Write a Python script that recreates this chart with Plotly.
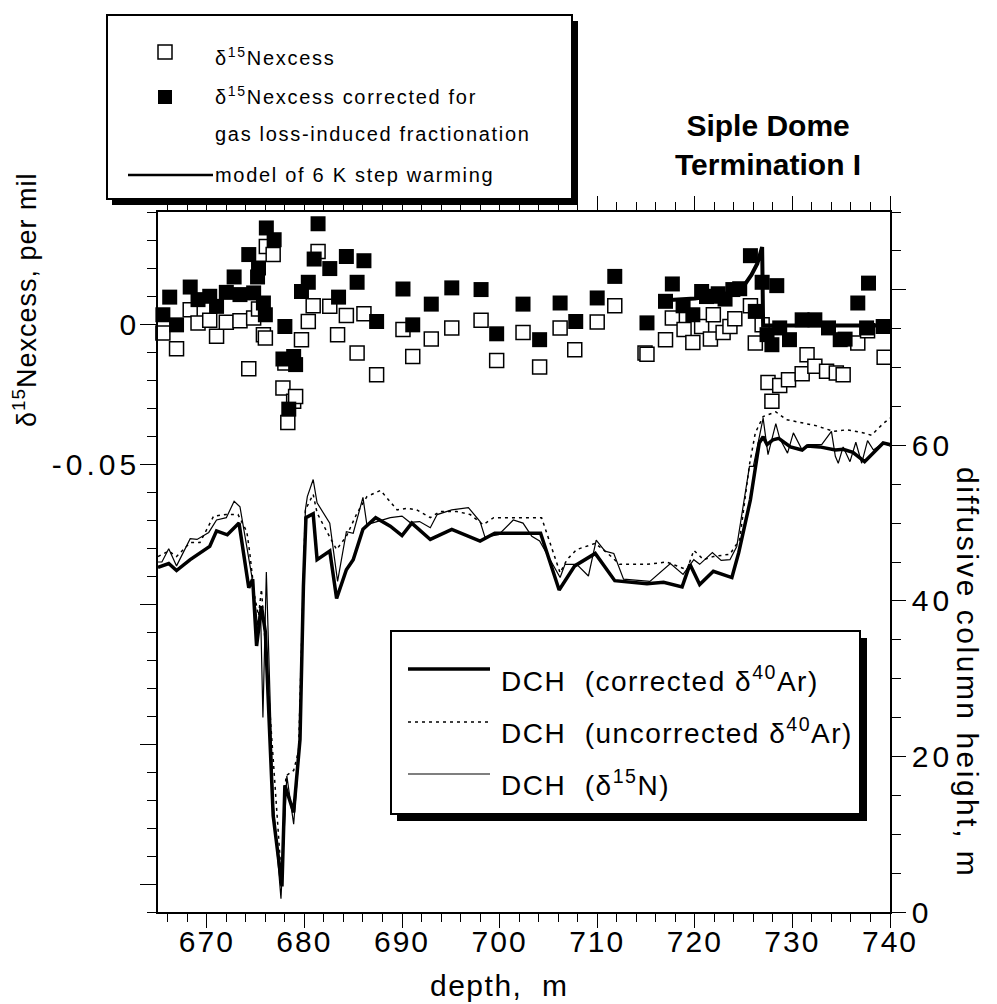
import plotly.graph_objects as go

# ---------------- data ----------------
open_depth = [665.5, 666.9, 668.3, 669.1, 670.3, 671.0, 672.0, 673.4, 674.3, 674.8, 675.3, 675.8, 676.0, 676.1,
              676.8, 677.8, 678.0, 678.3, 678.9, 679.1, 679.7, 680.4, 680.9, 681.4, 682.6, 683.4, 684.3, 685.4,
              686.1, 687.4, 690.1, 691.1, 693.0, 695.1, 698.1, 699.7, 702.4, 704.1, 706.2, 707.7, 710.0, 711.8,
              714.9, 715.1, 717.0, 717.7, 718.9, 719.8, 720.7, 721.6, 721.9, 722.9, 723.6, 724.1, 725.7, 726.2,
              726.9, 727.5, 727.9, 728.7, 729.6, 731.0, 731.5, 732.3, 733.5, 734.5, 735.2, 736.7, 737.7, 739.4]
open_val = [-0.0032, -0.0088, 0.0051, 0.0004, 0.0013, -0.0044, 0.0006, 0.0012, -0.0160, 0.0021, 0.0054, -0.0038,
            -0.0050, 0.0277, 0.0248, -0.0229, -0.0139, -0.0352, -0.0276, -0.0259, -0.0056, 0.0009, 0.0065, 0.0259,
            0.0063, -0.0038, 0.0030, -0.0104, 0.0037, -0.0181, -0.0020, -0.0116, -0.0054, -0.0014, 0.0013, -0.0130,
            -0.0030, -0.0154, -0.0014, -0.0092, 0.0007, 0.0065, -0.0104, -0.0108, -0.0056, 0.0021, -0.0020, -0.0066,
            -0.0009, -0.0054, 0.0033, -0.0030, -0.0009, 0.0019, 0.0065, -0.0068, -0.0003, -0.0209, -0.0276, -0.0220,
            -0.0199, -0.0178, -0.0110, -0.0151, -0.0169, -0.0175, -0.0181, -0.0068, -0.0024, -0.0119]

fill_depth = [665.5, 666.2, 666.9, 668.3, 669.1, 670.3, 671.0, 672.0, 672.8, 673.4, 674.3, 674.8, 675.2, 675.3,
              675.8, 676.0, 676.1, 676.9, 677.8, 678.0, 678.4, 678.9, 679.1, 679.7, 680.4, 681.0, 681.4, 682.6,
              683.5, 684.3, 685.4, 686.1, 687.4, 690.1, 691.1, 693.0, 695.1, 698.1, 699.7, 702.4, 704.1, 706.2,
              707.8, 710.0, 711.8, 715.1, 717.0, 717.7, 718.8, 719.8, 720.7, 721.9, 723.1, 723.9, 725.7, 726.2,
              726.9, 727.4, 727.9, 728.4, 728.7, 729.7, 731.0, 732.3, 733.7, 734.9, 735.4, 736.7, 737.6, 737.8,
              739.3, 721.2, 722.4, 724.6]
fill_val = [0.0033, 0.0096, -0.0003, 0.0132, 0.0087, 0.0099, 0.0063, 0.0113, 0.0168, 0.0105, 0.0248, 0.0111,
            0.0168, 0.0200, 0.0075, 0.0033, 0.0343, 0.0301, -0.0125, -0.0009, -0.0304, -0.0116, -0.0145, 0.0116,
            0.0149, 0.0232, 0.0358, 0.0198, 0.0096, 0.0241, 0.0149, 0.0226, 0.0009, 0.0125, -0.0003, 0.0071,
            0.0129, 0.0123, -0.0035, 0.0071, -0.0056, 0.0075, 0.0009, 0.0093, 0.0170, 0.0004, 0.0081, 0.0143,
            0.0065, 0.0033, 0.0116, 0.0099, 0.0089, 0.0123, 0.0244, 0.0045, 0.0149, -0.0038, -0.0074, 0.0137,
            -0.0014, -0.0056, 0.0015, 0.0015, -0.0014, -0.0056, -0.0054, 0.0075, -0.0014, 0.0146, -0.0009,
            0.0098, 0.0108, 0.0126]

model_depth = [717.0, 718.5, 720.0, 721.5, 723.0, 724.2, 725.1, 725.8, 726.4, 726.9, 727.0, 740.0]
model_val = [0.0085, 0.0087, 0.0091, 0.0098, 0.0106, 0.0118, 0.0140, 0.0175, 0.0215, 0.0275, -0.0005, -0.0005]

corr_depth = [665.0, 666.1, 666.9, 668.3, 670.3, 671.0, 672.1, 673.3, 674.3, 674.7, 675.1, 675.6, 676.0, 676.8,
              677.7, 678.0, 678.9, 679.55, 679.9, 680.16, 680.9, 681.3, 682.6, 683.3, 684.3, 685.0, 686.0, 687.3,
              688.8, 690.0, 691.0, 692.9, 695.1, 698.0, 699.5, 704.2, 706.1, 707.7, 709.8, 711.8, 715.1, 716.8,
              718.7, 719.5, 720.5, 721.9, 723.8, 724.5, 725.7, 726.6, 727.0, 727.4, 728.0, 728.6, 729.8, 731.0,
              731.5, 732.8, 734.4, 735.2, 736.2, 737.4, 739.3, 740.0]
corr_h = [44.3, 44.8, 43.9, 45.3, 47.0, 49.0, 48.5, 50.0, 41.7, 42.8, 34.2, 39.3, 36.0, 12.4,
          3.3, 16.3, 12.8, 22.2, 41.9, 50.7, 51.2, 45.3, 46.4, 40.3, 44.0, 45.3, 49.2, 50.7,
          49.6, 48.4, 50.0, 47.9, 49.2, 47.7, 48.7, 48.7, 41.4, 44.5, 46.1, 42.6, 42.2, 42.4,
          41.8, 44.7, 42.1, 43.8, 43.0, 46.2, 53.0, 60.3, 61.1, 60.1, 60.7, 60.9, 59.8, 59.4,
          59.9, 59.8, 59.4, 59.5, 59.1, 57.9, 60.3, 60.1]

uncorr_depth = [665.0, 666.1, 666.9, 668.3, 669.3, 670.7, 672.0, 673.2, 674.1, 674.4, 674.9, 675.3, 675.6, 676.1,
                677.7, 678.1, 678.9, 679.4, 680.1, 680.9, 681.3, 682.3, 683.3, 684.3, 685.4, 686.4, 687.8, 689.5,
                690.5, 691.5, 692.9, 693.9, 695.6, 697.0, 698.3, 699.4, 701.8, 704.3, 706.2, 706.9, 707.9, 709.8,
                711.0, 712.3, 715.1, 717.1, 719.2, 719.9, 720.9, 721.9, 723.6, 724.6, 725.6, 726.2, 727.0, 727.8,
                728.3, 729.4, 731.0, 732.5, 734.2, 735.6, 737.3, 738.1, 739.3, 740.0]
uncorr_h = [45.7, 46.4, 45.7, 47.5, 47.5, 50.9, 51.1, 51.1, 48.9, 46.2, 40.6, 38.1, 41.5, 32.1,
            3.4, 17.5, 18.2, 20.7, 51.7, 53.7, 51.3, 48.9, 46.6, 48.3, 51.3, 53.4, 54.2, 51.7,
            51.9, 51.7, 50.7, 51.5, 51.5, 51.1, 49.8, 50.7, 50.7, 50.7, 43.6, 45.3, 46.6, 47.4,
            46.2, 44.7, 44.7, 45.0, 44.0, 46.5, 45.3, 45.7, 46.0, 47.9, 57.5, 61.6, 63.7, 64.1,
            64.3, 63.3, 62.9, 62.5, 61.8, 62.0, 61.6, 61.3, 62.8, 63.5]

n15_depth = [665.0, 665.4, 666.1, 666.9, 668.3, 669.0, 670.2, 671.0, 672.0, 672.8, 673.4, 674.3, 674.7, 675.2,
             675.5, 675.75, 676.1, 676.8, 677.6, 678.2, 678.5, 678.9, 679.55, 680.1, 680.3, 680.9, 681.3, 682.6,
             683.4, 684.3, 685.0, 686.0, 686.4, 688.8, 690.0, 690.8, 691.8, 692.9, 693.6, 695.1, 696.8, 698.0,
             698.5, 699.9, 701.4, 702.4, 703.3, 704.1, 706.2, 706.7, 707.9, 709.1, 709.9, 710.8, 711.7, 712.7,
             715.4, 717.5, 718.8, 719.9, 720.5, 721.8, 722.7, 723.6, 724.3, 725.6, 726.0, 727.0, 727.5, 728.3,
             728.7, 729.5, 730.1, 731.0, 731.6, 733.0, 734.0, 734.4, 734.7, 735.2, 735.9, 736.5, 737.1, 737.7,
             738.3, 739.3, 740.0]
n15_h = [45.0, 45.0, 46.7, 44.5, 48.0, 47.9, 48.8, 50.4, 50.7, 52.8, 52.1, 45.3, 42.5, 36.8,
         39.3, 25.0, 43.7, 14.0, 1.7, 17.5, 14.8, 11.3, 21.8, 51.7, 53.4, 55.6, 52.6, 50.0,
         42.5, 48.9, 48.7, 53.3, 49.8, 50.7, 50.9, 50.1, 50.2, 49.4, 51.1, 51.7, 52.0, 50.2,
         48.2, 48.5, 50.4, 50.0, 48.3, 47.7, 43.0, 44.7, 44.7, 43.2, 47.8, 46.4, 46.1, 42.8,
         42.5, 44.8, 43.4, 45.3, 44.7, 46.2, 45.2, 45.3, 47.0, 57.3, 57.3, 63.5, 58.8, 62.8,
         60.9, 59.0, 61.6, 59.4, 60.1, 60.1, 61.8, 58.6, 57.7, 59.8, 57.9, 60.4, 57.7, 60.6,
         59.4, 60.3, 59.9]

x_ticks = [670, 680, 690, 700, 710, 720, 730, 740]
y_left_ticks = [-0.2, -0.15, -0.1, -0.05, 0]
y_left_text = ["", "", "", "-0.05", "0"]
y_right_ticks = [0, 20, 40, 60, 80]
y_right_text = ["0", "20", "40", "60", ""]

# ---------------- layout geometry (pixels) ----------------
W, H = 997, 1004
L, R, T, B = 158, 890, 212, 912
FONT = "Liberation Sans, Arial, Helvetica, sans-serif"


def px(x):
    return (x - L) / (R - L)


def py(y):
    return (B - y) / (B - T)


def sp(text, s):
    if not text:
        return text
    return '<span style="letter-spacing:%spx">%s</span>' % (s, text)


fig = go.Figure()

fig.add_trace(go.Scatter(x=open_depth, y=open_val, mode="markers", cliponaxis=False,
                         marker=dict(symbol="square", size=14, color="white",
                                     line=dict(color="black", width=1.5)), showlegend=False))
fig.add_trace(go.Scatter(x=fill_depth, y=fill_val, mode="markers", cliponaxis=False,
                         marker=dict(symbol="square", size=15, color="black",
                                     line=dict(color="black", width=0)), showlegend=False))
fig.add_trace(go.Scatter(x=model_depth, y=model_val, mode="lines",
                         line=dict(color="black", width=4), showlegend=False))

fig.add_trace(go.Scatter(x=uncorr_depth, y=uncorr_h, mode="lines", yaxis="y2",
                         line=dict(color="black", width=1.5, dash="3px,4px"), showlegend=False))
fig.add_trace(go.Scatter(x=n15_depth, y=n15_h, mode="lines", yaxis="y2",
                         line=dict(color="black", width=1.2), showlegend=False))
fig.add_trace(go.Scatter(x=corr_depth, y=corr_h, mode="lines", yaxis="y2",
                         line=dict(color="black", width=3.5), showlegend=False))

shapes = []


def rect(x0, y0, x1, y1, fill, lw=0, layer="above"):
    shapes.append(dict(type="rect", xref="paper", yref="paper", x0=px(x0), x1=px(x1), y0=py(y1), y1=py(y0),
                       fillcolor=fill, line=dict(color="black", width=lw), layer=layer))


def hline(x0, x1, y, lw, dash="solid"):
    shapes.append(dict(type="line", xref="paper", yref="paper", x0=px(x0), x1=px(x1), y0=py(y), y1=py(y),
                       line=dict(color="black", width=lw, dash=dash), layer="above"))


# legend 1 (top-left)
rect(112, 21, 578, 205, "black")
rect(107, 15, 572, 199, "white", 2)
rect(158, 45, 172, 59, "white", 1.5)
rect(158, 90, 172, 104, "black", 0)
hline(128, 213, 175, 2.5)

# legend 2 (DCH)
rect(397, 638, 867, 821, "black")
rect(391, 631, 860, 814, "white", 2)
hline(408, 490, 669, 3.5)
hline(408, 490, 722, 1.5, "3px,4px")
hline(408, 490, 774, 1.2)

annotations = []


def text(x, y, s, size, xanchor="left", angle=0, bold=False, align="left"):
    annotations.append(dict(xref="paper", yref="paper", x=px(x), y=py(y), text=s, showarrow=False,
                            xanchor=xanchor, yanchor="middle", textangle=angle, align=align,
                            font=dict(family=FONT, size=size, color="black",
                                      weight="bold" if bold else "normal")))


text(213, 57, sp("δ<sup>15</sup>Nexcess", 1.7), 20)
text(213, 95, sp("δ<sup>15</sup>Nexcess corrected for", 1.7), 20)
text(213, 134, sp("gas loss-induced fractionation", 1.7), 20)
text(213, 175, sp("model of 6 K step warming", 1.7), 20)

text(499, 679, sp("DCH  (corrected δ<sup>40</sup>Ar)", 1.5), 28)
text(499, 731, sp("DCH  (uncorrected δ<sup>40</sup>Ar)", 1.5), 28)
text(499, 783, sp("DCH  (δ<sup>15</sup>N)", 1.5), 28)

text(768, 145, "Siple Dome<br>Termination I", 30, xanchor="center", bold=True, align="center")

text(25, 300, sp("δ<sup>15</sup>Nexcess, per mil", 1), 27, xanchor="center", angle=-90)
text(968, 672, sp("diffusive column height, m", 2.5), 30, xanchor="center", angle=90)
text(499, 985, sp("depth,  m", 1.5), 30, xanchor="center")

fig.update_layout(
    template="none",
    width=W, height=H, autosize=False,
    margin=dict(l=L, r=W - R, t=T, b=H - B, pad=0),
    paper_bgcolor="white", plot_bgcolor="white",
    showlegend=False,
    font=dict(family=FONT, color="black"),
    shapes=shapes, annotations=annotations,
    xaxis=dict(range=[665, 740], tickvals=x_ticks, ticktext=[sp(str(v), 2) for v in x_ticks],
               ticks="outside", ticklen=14, tickwidth=1.3, tickcolor="black", automargin=False,
               ticklabelstandoff=-12,
               minor=dict(dtick=2, tick0=0, ticks="outside", ticklen=8, tickwidth=1.2, tickcolor="black"),
               showline=True, linecolor="black", linewidth=1.5, mirror="ticks",
               showgrid=False, zeroline=False, tickfont=dict(size=30, family=FONT)),
    yaxis=dict(range=[-0.21, 0.04], tickvals=y_left_ticks, ticktext=[sp(t, 4) for t in y_left_text],
               ticks="outside", ticklen=16, tickwidth=1.3, tickcolor="black", automargin=False,
               ticklabelstandoff=-6,
               minor=dict(dtick=0.01, tick0=0, ticks="outside", ticklen=9, tickwidth=1.2, tickcolor="black"),
               showline=True, linecolor="black", linewidth=1.5,
               showgrid=False, zeroline=False, tickfont=dict(size=30, family=FONT)),
    yaxis2=dict(range=[0, 90], overlaying="y", side="right", tickvals=y_right_ticks,
                ticktext=[sp(t, 4) for t in y_right_text], automargin=False,
                ticks="outside", ticklen=14, tickwidth=1.3, tickcolor="black",
                minor=dict(dtick=5, tick0=0, ticks="outside", ticklen=9, tickwidth=1.2, tickcolor="black"),
                showline=True, linecolor="black", linewidth=1.5,
                showgrid=False, zeroline=False, tickfont=dict(size=30, family=FONT)),
)

fig.write_html("out.html")
